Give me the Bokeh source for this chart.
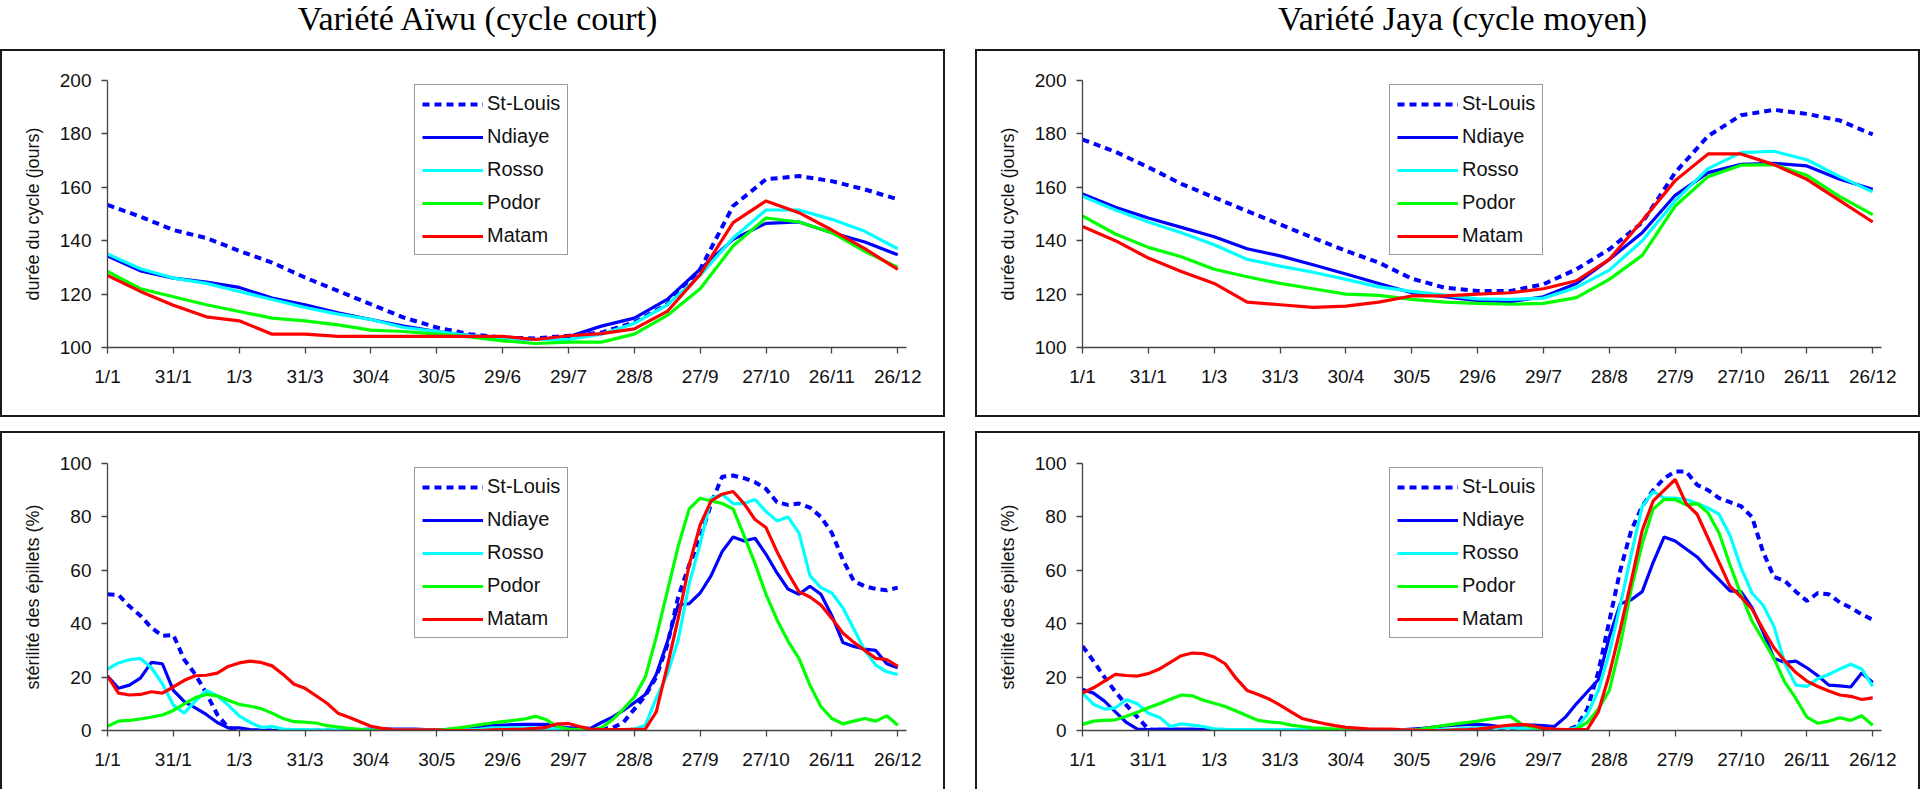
from bokeh.plotting import figure
from bokeh.models import Range1d, FixedTicker, Div, Spacer
from bokeh.layouts import column, row
from bokeh.embed import file_html
from bokeh.resources import INLINE

# ---------------- data ----------------
stations = ["St-Louis", "Ndiaye", "Rosso", "Podor", "Matam"]
station_colors = ["#0000FF", "#0000FF", "#00FFFF", "#00FF00", "#FF0000"]

tick_days = [0, 30, 60, 90, 120, 150, 180, 210, 240, 270, 300, 330, 360]
tick_labels = ["1/1", "31/1", "1/3", "31/3", "30/4", "30/5", "29/6", "29/7",
               "28/8", "27/9", "27/10", "26/11", "26/12"]

days_top = list(range(0, 361, 15))
days_bot = list(range(0, 361, 5))

# Variété Aïwu - durée du cycle (jours)
aiwu_cycle_stlouis = [153.4, 149, 144, 141, 136.2, 131.8, 126.2, 121.2, 116.2, 111.2, 107.5, 105, 103.7,
                      103.4, 104.4, 105.6, 109.4, 116.2, 129.3, 153, 163, 164.2, 162.3, 159.2, 155.5]
aiwu_cycle_ndiaye = [134.3, 128.7, 126, 124.5, 122.5, 118.5, 116, 113, 110.5, 108, 106, 104.5, 103.5,
                     103, 104, 108, 111, 118, 129.3, 140.5, 146.5, 147, 143, 139.5, 134.7]
aiwu_cycle_rosso = [135, 129.5, 126, 124, 121, 118, 115, 112.5, 110.5, 107.5, 106, 104.5, 103.5,
                    103, 103, 105, 109, 116, 127, 141, 151.5, 151.5, 148, 143.5, 137]
aiwu_cycle_podor = [128.5, 122, 119, 116, 113.5, 111, 110, 108.5, 106.5, 106, 105, 104, 102.5,
                    101.5, 102, 102, 105, 112, 122, 138, 148.5, 147, 143, 136, 130]
aiwu_cycle_matam = [127, 121, 115.8, 111.5, 110, 105, 105, 104.2, 104.2, 104.2, 104.2, 104.2, 104.2,
                    103, 104.4, 105.2, 107, 113.5, 127.4, 146.8, 154.9, 150.5, 144, 137, 129.3]

# Variété Jaya - durée du cycle (jours)
jaya_cycle_stlouis = [177.9, 173.3, 167.5, 161.3, 156.2, 151.1, 146.1, 141.1, 136.2, 131.8, 125.8, 122.4, 121.2,
                      121.2, 123.7, 129.3, 136.8, 146.8, 165.5, 179.2, 187, 189, 187.5, 185, 179.8]
jaya_cycle_ndiaye = [157.5, 152.5, 148.5, 145, 141.5, 137, 134.3, 131, 127.5, 124, 120.5, 119, 117.5,
                     117.2, 119, 124, 133, 143, 157, 165.5, 168.6, 169, 168, 163, 159.3]
jaya_cycle_rosso = [156.7, 151.5, 147, 143, 138.5, 133, 130.5, 128.2, 125.5, 122.7, 121, 119.6, 118.2,
                    118, 118.5, 122.5, 129, 140, 155, 167, 173, 173.5, 170.3, 164, 158.3]
jaya_cycle_podor = [149.3, 142.5, 137.5, 134, 129.3, 126.5, 124, 122, 120, 119.5, 118, 117, 116.5,
                    116.2, 116.5, 118.7, 125.5, 134.5, 153, 164, 168.3, 168.5, 164.5, 156.5, 149.8]
jaya_cycle_matam = [145.3, 140, 133.5, 128.5, 124, 117, 116, 115, 115.5, 117, 119.3, 119.3, 120,
                    120.5, 122, 125, 133, 147.5, 162.5, 172.5, 172.5, 168.5, 163, 155, 147]

# Variété Aïwu - stérilité des épillets (%)
aiwu_ster_stlouis = [51, 50.8, 46.5, 43, 38.5, 35.5, 35.8, 26.5, 21, 14, 6, 1, 0,
                     0, 0, 0, 0, 0, 0, 0, 0, 0, 0, 0, 0, 0, 0, 0, 0, 0, 0, 0, 0,
                     0, 0, 0, 0, 0, 0, 0, 0, 0, 0, 0,
                     0, 0.5, 1, 3, 8, 13, 20, 32, 50, 62, 72, 85, 95, 95.5, 94.5, 93, 90.5, 85.5,
                     84.5, 85, 83.5, 80, 74, 64, 56, 54, 53, 52.5, 53.5]
aiwu_ster_ndiaye = [20.4, 15.8, 17, 19.6, 25.5, 25, 15, 10.8, 8.5, 6, 3, 1, 1,
                    0.3, 0, 0, 0, 0, 0, 0, 0, 0, 0, 0.3, 0.5, 0.5, 0.5, 0.5, 0.5, 0.3, 0.3, 0.3,
                    0.5, 1, 1.5, 1.8, 2, 2.2, 2.3, 2.3, 2.3, 1.5, 1, 1,
                    0.8, 3, 5, 7.5, 10.4, 13.5, 21, 33, 47, 47.5, 51.5, 58, 67, 72.5, 71, 72, 66, 59,
                    53, 51, 54, 51, 43, 33, 31.5, 30.5, 30, 25, 23.5]
aiwu_ster_rosso = [23, 25.3, 26.5, 27, 23.5, 17.5, 9.5, 6.5, 11, 15, 13, 9.5, 5.5,
                   3, 1.2, 1.5, 0.5, 0.3, 0.3, 0.2, 0.2, 0.2, 0.2, 0.2, 0.2, 0.2, 0.2, 0.2, 0.2,
                   0.2, 0.2, 0.2, 0.2, 0.2, 0.5, 1, 1, 1, 1, 1, 0.8, 0.5, 0.3, 0.2,
                   0.2, 0.2, 0.2, 0.3, 0.5, 2, 12, 21, 34, 55, 70, 87, 88.5, 85, 85, 86.5, 82, 78.5,
                   80, 74, 58, 53.5, 51.5, 46, 38, 30, 24.5, 22, 21]
aiwu_ster_podor = [1.6, 3.5, 3.8, 4.3, 5, 5.8, 7.5, 10, 12.3, 13.5, 13, 11.3, 9.8,
                   9.1, 8.2, 6.5, 4.5, 3.3, 3.1, 2.8, 1.8, 1.3, 0.8, 0.4, 0, 0, 0, 0, 0, 0, 0,
                   0.5, 1, 1.6, 2.2, 2.8, 3.3, 3.8, 4.3, 5.3, 4, 1.5, 0.5, 0.3,
                   0.2, 1, 4, 8, 12.5, 20, 35, 52, 69, 83, 87, 86, 85, 83, 73, 62.5, 51, 41.5,
                   33.5, 27, 17, 9, 4.5, 2.5, 3.5, 4.5, 3.5, 5.5, 2]
aiwu_ster_matam = [20.4, 14, 13.3, 13.5, 14.5, 14, 16.3, 18.8, 20.5, 20.7, 21.5, 24, 25.3,
                   26, 25.5, 24.2, 21, 17.3, 15.8, 13, 10.2, 6.5, 5, 3.3, 1.6, 0.8, 0.3, 0.2, 0.2,
                   0.2, 0.2, 0, 0, 0, 0, 0.2, 0.3, 0.4, 0.5, 0.8, 1.2, 2.5, 2.6, 1.5,
                   0.5, 0.3, 0.3, 0.3, 0.4, 0.5, 7, 24, 42, 62, 77, 86, 88.5, 89.5, 85, 79, 76, 67,
                   59, 52, 50, 47, 42, 36.5, 33, 30, 27, 26.6, 24]

# Variété Jaya - stérilité des épillets (%)
jaya_ster_stlouis = [31.6, 26, 20, 14.5, 9.5, 5, 0.5, 0, 0, 0, 0, 0, 0,
                     0, 0, 0, 0, 0, 0, 0, 0, 0, 0, 0, 0, 0, 0, 0, 0, 0, 0, 0, 0,
                     0, 0, 0, 0, 0, 0, 0, 0, 0, 0, 0,
                     0, 1.5, 8, 22, 41, 60, 75, 84, 90, 94.5, 97, 97, 92, 90, 87, 85.5, 84, 80,
                     67, 57.5, 56, 52, 48.5, 51.5, 51, 48, 46, 43.5, 41.5]
jaya_ster_ndiaye = [15.4, 14, 11, 7, 3, 0.5, 0.3, 0.5, 0.5, 0.5, 0.5, 0.3, 0.3,
                    0.3, 0.3, 0.3, 0.3, 0.3, 0.3, 0.3, 0.3, 0.3, 0.3, 0.3, 0.3, 0.2, 0.2, 0, 0,
                    0.2, 0.5, 0.8, 1.3, 1.7, 2, 2.2, 2.3, 2, 1.5, 1.8, 2, 2, 1.8, 1.5,
                    5, 10, 14.5, 19, 35, 47.5, 49, 52, 63, 72.5, 71, 68, 65, 60.5, 56.5, 52.3, 52, 46,
                    37, 27, 25.5, 26, 23.5, 20.5, 17, 16.7, 16.3, 21.5, 18]
jaya_ster_rosso = [14, 9.8, 8, 8.5, 11.5, 10, 6.5, 5, 1.5, 2.5, 2, 1.5, 0.6,
                   0.4, 0.3, 0.3, 0.3, 0.3, 0.3, 0.3, 0.3, 0.3, 0.3, 0.3, 0.3, 0.3, 0.3, 0.3, 0.3,
                   0.3, 0.3, 0.3, 0.3, 0.3, 0.5, 0.8, 1, 1, 1, 1, 0.8, 0.5, 0.3, 0.2,
                   0.2, 1, 6, 15, 29, 47, 66, 84, 89.5, 87, 87, 86.5, 85, 83.3, 81, 73, 61, 51.5,
                   47, 39, 25, 17, 16.5, 19.5, 21, 23, 24.8, 23, 16.5]
jaya_ster_podor = [2.3, 3.5, 3.8, 4, 5.3, 6.8, 8.5, 10, 11.7, 13.3, 13, 11.3, 10.2,
                   9, 7.3, 5.5, 3.8, 3.2, 2.9, 2, 1.5, 1, 0.8, 0.5, 0, 0, 0, 0, 0, 0, 0,
                   0.6, 1.3, 1.9, 2.5, 3, 3.5, 4.2, 4.8, 5.3, 2.3, 1.2, 0.5, 0.2,
                   0, 0.5, 3, 8, 15, 32, 53, 70, 83, 86.5, 86.5, 84.5, 85, 81.5, 74, 62, 51, 41,
                   34, 27, 18, 12, 5, 2.7, 3.5, 4.8, 3.8, 5.5, 2]
jaya_ster_matam = [14, 16, 18.5, 21, 20.6, 20.4, 21.3, 23, 25.5, 28, 29, 28.8, 27.5,
                   25, 19.5, 15, 13.5, 11.8, 9.5, 7, 4.5, 3.5, 2.6, 1.8, 1.2, 0.9, 0.6, 0.5, 0.5,
                   0.3, 0.2, 0, 0, 0, 0.2, 0.3, 0.5, 1, 1.6, 2, 2.3, 1.8, 0.8, 0.5,
                   0.3, 0.3, 0.4, 7, 21, 38, 56, 75, 86, 90, 94, 85, 81, 72, 63, 54, 50, 45.5,
                   38, 31, 26, 21.7, 18.5, 16.5, 14.8, 13.3, 12.8, 11.6, 12.2]

# ---------------- styling helpers ----------------
FONT = "Liberation Sans"
BOX_W = 945
MB_LEFT = 107
FRAME_W = 799


def make_panel(days, series, y_start, y_end, y_ticks, y_label, height, mb_top, mb_bottom, bottom_open):
    c = "#1a1a1a"
    if bottom_open:
        shadow = "inset 2px 0 0 %s, inset -2px 0 0 %s, inset 0 2px 0 %s" % (c, c, c)
    else:
        shadow = "inset 0 0 0 2px %s" % c
    p = figure(width=BOX_W, height=height, x_range=Range1d(0, 364), y_range=Range1d(y_start, y_end),
               output_backend="svg", toolbar_location=None, title=None,
               min_border_left=MB_LEFT, min_border_right=BOX_W - MB_LEFT - FRAME_W,
               min_border_top=mb_top, min_border_bottom=mb_bottom,
               background_fill_color=None, border_fill_color=None,
               styles={"box-shadow": shadow, "background-color": "white"})
    p.outline_line_color = None
    p.xgrid.grid_line_color = None
    p.ygrid.grid_line_color = None

    for name, col, vals in zip(stations, station_colors, series):
        if name == "St-Louis":
            p.line(days, vals, line_color=col, line_width=4, line_dash="7 5", legend_label=name)
        else:
            p.line(days, vals, line_color=col, line_width=3.2, legend_label=name)

    p.xaxis.ticker = FixedTicker(ticks=tick_days)
    p.xaxis.major_label_overrides = {d: l for d, l in zip(tick_days, tick_labels)}
    p.yaxis.ticker = FixedTicker(ticks=y_ticks)
    for ax in (p.xaxis[0], p.yaxis[0]):
        ax.axis_line_color = "#444444"
        ax.axis_line_width = 1.3
        ax.major_tick_line_color = "#444444"
        ax.major_tick_line_width = 1.3
        ax.major_tick_out = 6
        ax.major_tick_in = 0
        ax.minor_tick_line_color = None
        ax.major_label_text_font = FONT
        ax.major_label_text_font_size = "19px"
        ax.major_label_text_color = "#111111"
    p.xaxis.major_label_standoff = 12
    p.yaxis.major_label_standoff = 10
    p.yaxis.axis_label = y_label
    p.yaxis.axis_label_text_font = FONT
    p.yaxis.axis_label_text_font_size = "18px"
    p.yaxis.axis_label_text_font_style = "normal"
    p.yaxis.axis_label_text_color = "#111111"
    p.yaxis.axis_label_standoff = 14

    lg = p.legend[0]
    lg.location = (307, 92)
    lg.label_text_font = FONT
    lg.label_text_font_size = "20px"
    lg.label_text_color = "#111111"
    lg.glyph_width = 61
    lg.glyph_height = 20
    lg.label_height = 20
    lg.label_standoff = 4
    lg.spacing = 10
    lg.padding = 7
    lg.margin = 0
    lg.border_line_color = "#333333"
    lg.border_line_width = 1.5
    lg.background_fill_color = "white"
    lg.background_fill_alpha = 1.0
    return p


def title_div(txt):
    html = ('<div style="width:945px;text-align:center;font-family:\'Liberation Serif\';'
            'font-size:34px;line-height:28px;color:#000;">%s</div>' % txt)
    return Div(text=html, width=945, height=39)


p1 = make_panel(days_top, [aiwu_cycle_stlouis, aiwu_cycle_ndiaye, aiwu_cycle_rosso, aiwu_cycle_podor, aiwu_cycle_matam],
                100, 200, [100, 120, 140, 160, 180, 200], "durée du cycle (jours)", 368, 31, 70, False)
p2 = make_panel(days_top, [jaya_cycle_stlouis, jaya_cycle_ndiaye, jaya_cycle_rosso, jaya_cycle_podor, jaya_cycle_matam],
                100, 200, [100, 120, 140, 160, 180, 200], "durée du cycle (jours)", 368, 31, 70, False)
p3 = make_panel(days_bot, [aiwu_ster_stlouis, aiwu_ster_ndiaye, aiwu_ster_rosso, aiwu_ster_podor, aiwu_ster_matam],
                0, 100, [0, 20, 40, 60, 80, 100], "stérilité des épillets (%)", 358, 32, 59, True)
p4 = make_panel(days_bot, [jaya_ster_stlouis, jaya_ster_ndiaye, jaya_ster_rosso, jaya_ster_podor, jaya_ster_matam],
                0, 100, [0, 20, 40, 60, 80, 100], "stérilité des épillets (%)", 358, 32, 59, True)

titles = row(title_div("Variété Aïwu (cycle court)"), title_div("Variété Jaya (cycle moyen)"), spacing=30)
layout = column(titles, row(p1, p2, spacing=30), Spacer(width=10, height=14), row(p3, p4, spacing=30), spacing=0)

open("out.html", "w").write(file_html(layout, INLINE))
